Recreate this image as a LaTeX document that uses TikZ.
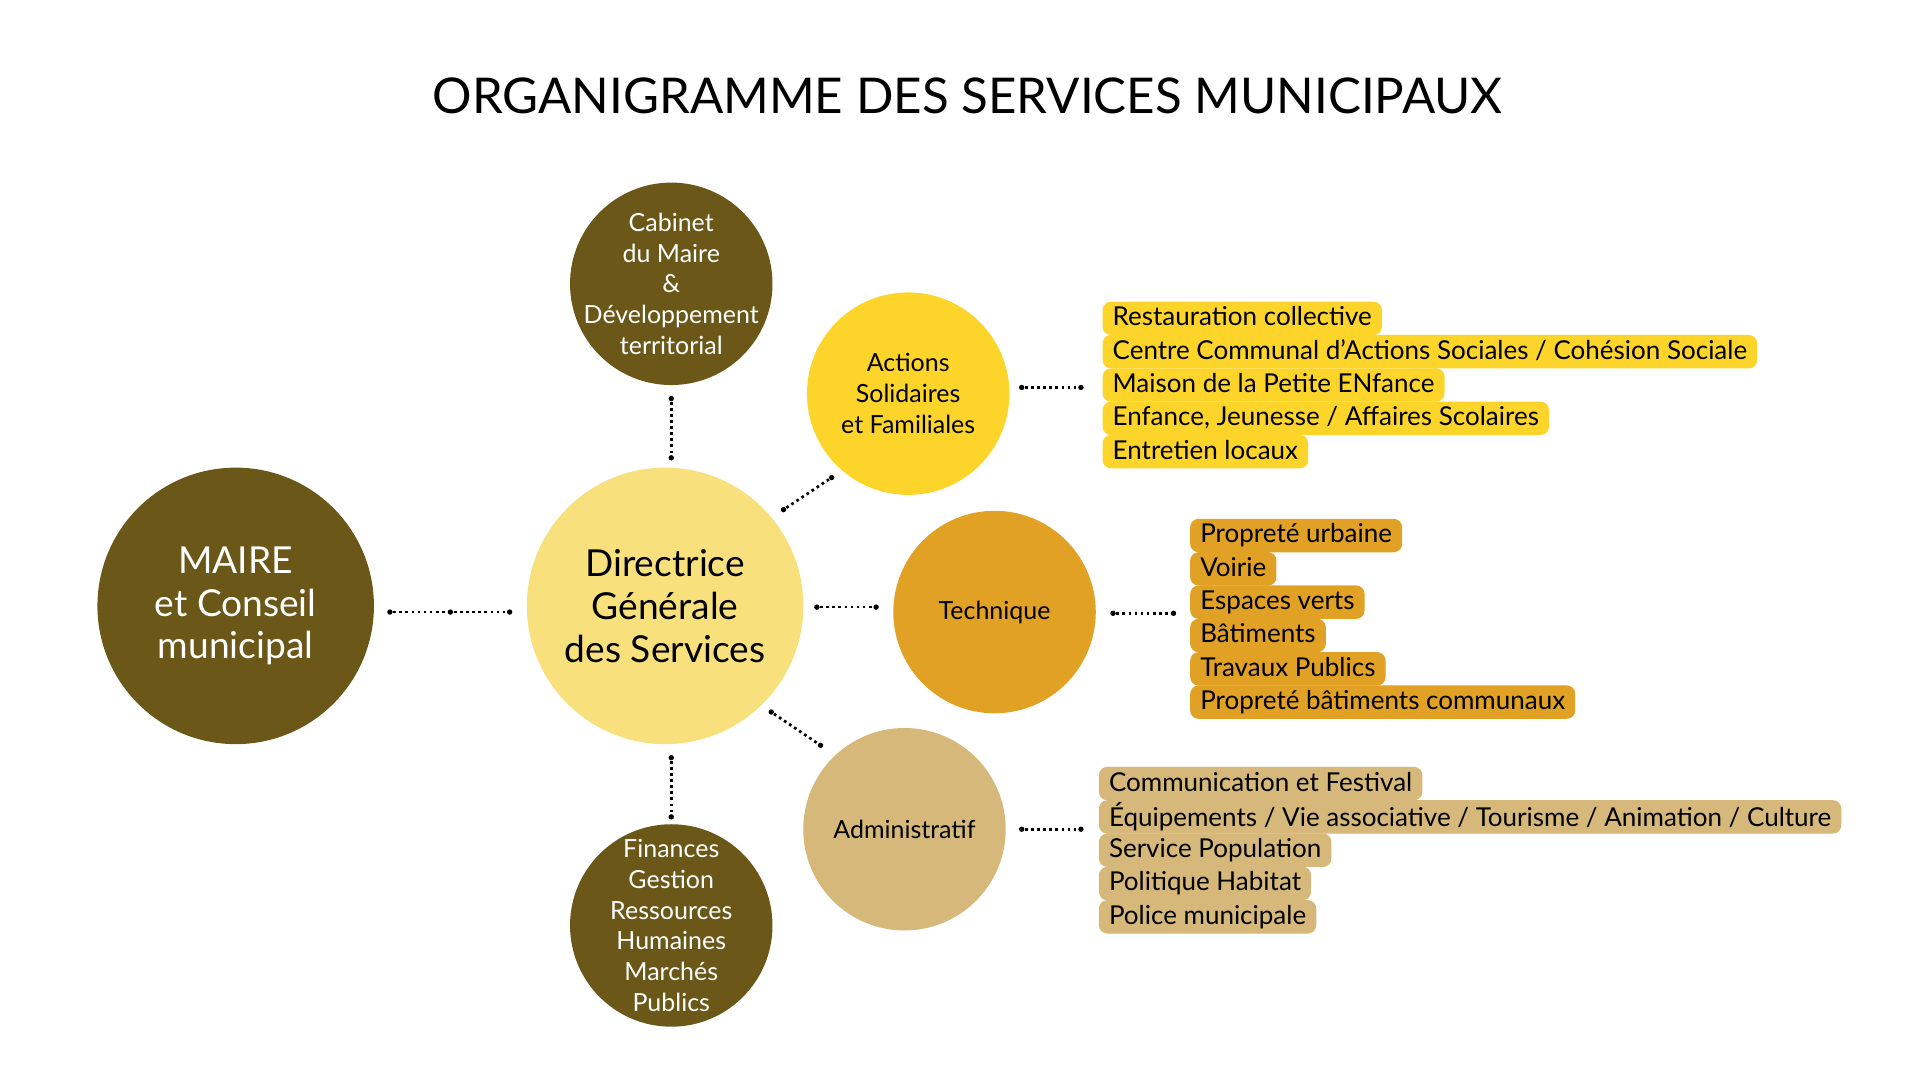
\documentclass[tikz,border=0pt]{standalone}
\usepackage{fontspec}
\setmainfont{Lato}
\definecolor{olive}{RGB}{107,88,25}
\definecolor{paleyel}{RGB}{248,224,124}
\definecolor{sunyel}{RGB}{253,213,42}
\definecolor{ochre}{RGB}{224,161,37}
\definecolor{sand}{RGB}{214,185,122}
\begin{document}
\begin{tikzpicture}[x=0.012853cm,y=-0.012853cm]

\tikzstyle{bigdisc} = [circle,inner sep=-8mm,minimum size=2.879cm,align=center,font=\fontsize{11}{12.7}\selectfont];
\tikzstyle{smalldisc} = [circle,inner sep=-8mm,minimum size=2.108cm,align=center,font=\fontsize{7.4}{9.1}\selectfont];
\tikzstyle{item} = [anchor=west,rounded corners=2.5pt,inner xsep=3pt,inner ysep=0,minimum height=9.9pt,text depth=0.25ex,font=\fontsize{7.7}{8}\selectfont];
\tikzstyle{link} = [densely dotted,line width=0.8pt];
\tikzstyle{tip} = [circle,fill=black,inner sep=0,minimum size=1.6pt];

\fill[white] (0,0) rectangle (1556,875);

\node[font=\fontsize{14.6}{17}\selectfont] (title) at (784,78) {ORGANIGRAMME DES SERVICES MUNICIPAUX};

\node[bigdisc,fill=olive,text=white] (maire) at (191,491) {MAIRE\\et Conseil\\municipal};
\node[bigdisc,fill=paleyel] (dgs) at (539,491) {Directrice\\Générale\\des Services};
\node[smalldisc,fill=olive,text=white] (cab) at (544,230) {Cabinet\\du Maire\\\&\\Développement\\territorial};
\node[smalldisc,fill=sunyel] (asf) at (736,319) {Actions\\Solidaires\\et Familiales};
\node[smalldisc,fill=ochre] (tech) at (806,496) {Technique};
\node[smalldisc,fill=sand] (adm) at (733,672) {Administratif};
\node[smalldisc,fill=olive,text=white] (fin) at (544,750) {Finances\\Gestion\\Ressources\\Humaines\\Marchés\\Publics};

% points des liaisons
\foreach \n/\x/\y in {m1/316/496, m2/413/496, m3/365/496, c1/544/323, c2/544/371,
    a1/635/413, a2/674/387, t1/662/492, t2/710/492, d1/625/577, d2/665/604,
    f1/544/614, f2/544/662, l1/828/314, l2/876/314, l3/902/497, l4/951/497,
    l5/828/672, l6/876/672}
  \node[tip] (\n) at (\x,\y) {};

\draw[link] (m1) -- (m2);
\draw[link] (c1) -- (c2);
\draw[link] (a1) -- (a2);
\draw[link] (t1) -- (t2);
\draw[link] (d1) -- (d2);
\draw[link] (f1) -- (f2);
\draw[link] (l1) -- (l2);
\draw[link] (l3) -- (l4);
\draw[link] (l5) -- (l6);

% listes
\foreach \t [count=\i] in {Restauration collective,
    Centre Communal d’Actions Sociales / Cohésion Sociale,
    Maison de la Petite ENfance,
    Enfance{,} Jeunesse / Affaires Scolaires,
    Entretien locaux}
  \node[item,fill=sunyel] (asf\i) at (893,231+27*\i) {\t};

\foreach \t [count=\i] in {Propreté urbaine, Voirie, Espaces verts, Bâtiments,
    Travaux Publics, Propreté bâtiments communaux}
  \node[item,fill=ochre] (tech\i) at (964,407+27*\i) {\t};

\foreach \t [count=\i] in {Communication et Festival,
    Équipements / Vie associative / Tourisme / Animation / Culture,
    Service Population, Politique Habitat, Police municipale}
  \node[item,fill=sand] (adm\i) at (890,608+27*\i) {\t};

\end{tikzpicture}
\end{document}
